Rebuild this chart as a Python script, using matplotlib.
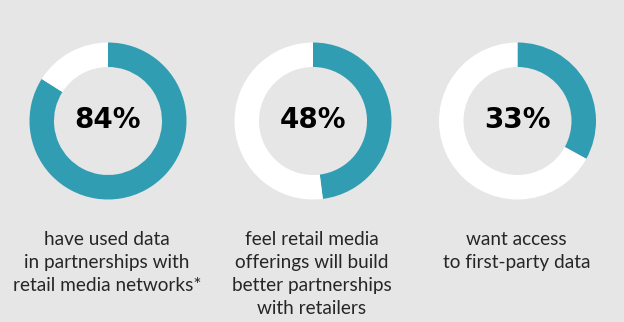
import matplotlib
matplotlib.use("Agg")
import matplotlib.pyplot as plt

# Data
percentages = [84, 48, 33]
descriptions = [
    "have used data\nin partnerships with\nretail media networks*",
    "feel retail media\nofferings will build\nbetter partnerships\nwith retailers",
    "want access\nto first-party data",
]

# Style / layout
W, H = 624, 322
BG = "#e6e6e6"
TEAL = "#319db2"
REST = "#ffffff"
centers_x = [108, 313, 517.5]
center_y = H - 121
r_out = 78.5
ring_w = 24.5
first_line_y = 238
line_step = 23

fig = plt.figure(figsize=(W / 100, H / 100), dpi=100, facecolor=BG)
ax = fig.add_axes([0, 0, 1, 1])
ax.set_facecolor(BG)

for cx, pct, desc in zip(centers_x, percentages, descriptions):
    ax.pie([pct, 100 - pct], colors=[TEAL, REST], startangle=90, counterclock=False,
           radius=r_out, center=(cx, center_y),
           wedgeprops=dict(width=ring_w, edgecolor="none", linewidth=0))
    ax.text(cx, center_y + 1, f"{pct}%", ha="center", va="center",
            fontsize=20, fontweight="bold", color="#000000", family="DejaVu Sans")
    for i, line in enumerate(desc.split("\n")):
        ax.text(cx - 1, H - (first_line_y + i * line_step), line, ha="center",
                va="center_baseline", fontsize=13.7, color="#262626",
                family="Lato", fontweight="normal")

ax.set_xlim(0, W)
ax.set_ylim(0, H)
ax.set_aspect("auto")
ax.axis("off")

fig.savefig("out.png", dpi=100, facecolor=BG)
